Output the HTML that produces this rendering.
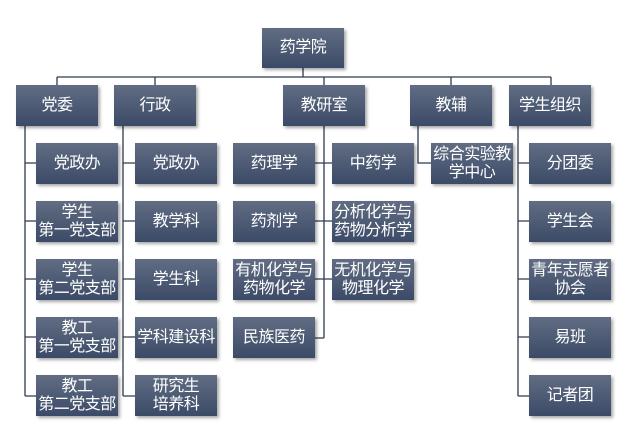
<!DOCTYPE html>
<html><head><meta charset="utf-8"><style>
body{margin:0;width:632px;height:432px;background:#fff;position:relative;overflow:hidden;font-family:"Liberation Sans","Noto Sans CJK SC",sans-serif}
.b{position:absolute;height:41px;width:82px;background:linear-gradient(#616d83,#3b4a67);color:#fff;font-size:16px;line-height:18px;display:flex;align-items:center;justify-content:center;text-align:center;box-shadow:2px 2px 3px rgba(0,0,0,.35);letter-spacing:-0.5px}
svg{position:absolute;left:0;top:0}
</style></head><body>
<svg width="632" height="432" stroke="#2e3a4e" stroke-width="1.3" fill="none">
<path d="M303 68V77M57 77H551M57 77V85M155 77V85M324 77V85M451 77V85M551 77V85"/>
<path d="M25 126V396M25 163H36M25 221H36M25 279H36M25 337H36M25 396H36"/>
<path d="M123 126V396M123 163H135M123 221H135M123 279H135M123 337H135M123 396H135"/>
<path d="M324 126V338M315 163H332M315 221H332M315 279H332M315 338H324"/>
<path d="M418 126V163H431"/>
<path d="M518 126V396M518 163H529M518 221H529M518 279H529M518 337H529M518 396H529"/>
</svg>
<div class="b" style="left:262px;top:28px;height:40px">药学院</div>
<div class="b" style="left:16px;top:85px">党委</div>
<div class="b" style="left:114px;top:85px">行政</div>
<div class="b" style="left:283px;top:85px">教研室</div>
<div class="b" style="left:410px;top:85px">教辅</div>
<div class="b" style="left:509px;top:85px">学生组织</div>

<div class="b" style="left:36px;top:143px">党政办</div>
<div class="b" style="left:36px;top:201px">学生<br>第一党支部</div>
<div class="b" style="left:36px;top:259px">学生<br>第二党支部</div>
<div class="b" style="left:36px;top:317px">教工<br>第一党支部</div>
<div class="b" style="left:36px;top:375px">教工<br>第二党支部</div>

<div class="b" style="left:135px;top:143px">党政办</div>
<div class="b" style="left:135px;top:201px">教学科</div>
<div class="b" style="left:135px;top:259px">学生科</div>
<div class="b" style="left:135px;top:317px">学科建设科</div>
<div class="b" style="left:135px;top:375px">研究生<br>培养科</div>

<div class="b" style="left:233px;top:143px">药理学</div>
<div class="b" style="left:233px;top:201px">药剂学</div>
<div class="b" style="left:233px;top:259px">有机化学与<br>药物化学</div>
<div class="b" style="left:233px;top:317px">民族医药</div>
<div class="b" style="left:332px;top:143px">中药学</div>
<div class="b" style="left:332px;top:201px">分析化学与<br>药物分析学</div>
<div class="b" style="left:332px;top:259px">无机化学与<br>物理化学</div>

<div class="b" style="left:431px;top:143px">综合实验教<br>学中心</div>

<div class="b" style="left:529px;top:143px">分团委</div>
<div class="b" style="left:529px;top:201px">学生会</div>
<div class="b" style="left:529px;top:259px">青年志愿者<br>协会</div>
<div class="b" style="left:529px;top:317px">易班</div>
<div class="b" style="left:529px;top:375px">记者团</div>
</body></html>
